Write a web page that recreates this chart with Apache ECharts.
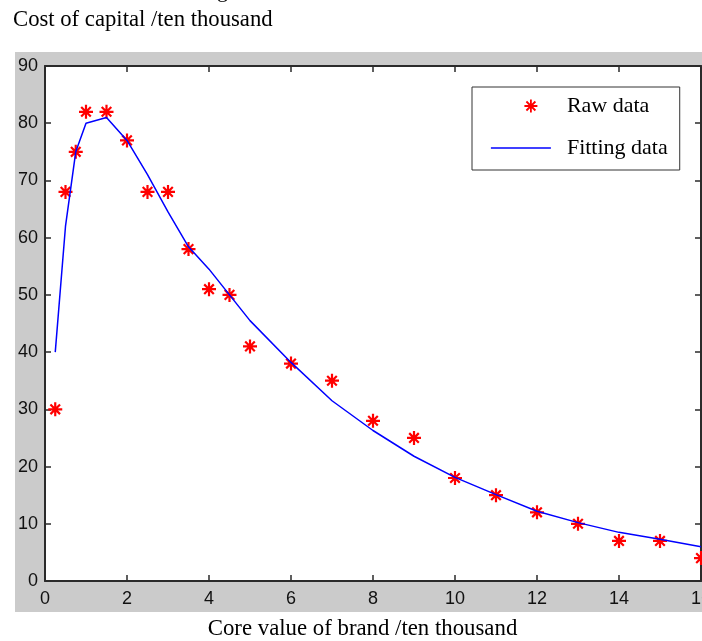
<!DOCTYPE html>
<html><head><meta charset="utf-8">
<script src="https://cdn.jsdelivr.net/npm/echarts@6/dist/echarts.min.js"></script>
<style>html,body{margin:0;padding:0;background:#fff;overflow:hidden}#c{width:702px;height:641px;}</style>
</head><body><div id="c"></div>
<script>
// ---- data ----
const rawX = [0.25, 0.5, 0.75, 1, 1.5, 2, 2.5, 3, 3.5, 4, 4.5, 5, 6, 7, 8, 9, 10, 11, 12, 13, 14, 15, 16];
const rawY = [30, 68, 75, 82, 82, 77, 68, 68, 58, 51, 50, 41, 38, 35, 28, 25, 18, 15, 12, 10, 7, 7, 4];
const fitY = [40, 62, 75, 80, 81, 77, 71, 64.5, 58.4, 54.5, 50, 45.5, 38.2, 31.5, 26.3, 21.8, 18.1, 15.1, 12.2, 10.2, 8.5, 7.3, 6];
const seriesNames = ['Raw data', 'Fitting data'];
const titleText = 'Cost of capital /ten thousand';
const xAxisTitle = 'Core value of brand /ten thousand';
const xRange = [0, 16, 2];
const yRange = [0, 90, 10];

const serif = 'Liberation Serif';
const sans = 'Liberation Sans';
const axisColor = '#2b2b2b';
const starPath = 'path://M0,7L14,7M7,0L7,14M2.2,2.2L11.8,11.8M11.8,2.2L2.2,11.8';
const legendStar = 'path://M0,0L0,0M60,14L60,14M33.5,7L46.5,7M40,0.5L40,13.5M35.5,2.5L44.5,11.5M44.5,2.5L35.5,11.5';
const legendLine = 'path://M0,0L0,0M60,14L60,14M0,6.3L60,6.3L60,7.7L0,7.7Z';

function axisBase(pos, r, showLabel, isX) {
  return {
    type: 'value', position: pos, min: r[0], max: r[1], interval: r[2],
    axisLine: { show: true, onZero: false, lineStyle: { color: axisColor, width: 2 } },
    axisTick: { show: true, inside: true, length: 6, lineStyle: { color: axisColor, width: 1.5 } },
    axisLabel: { show: showLabel, margin: isX ? 9 : 7, fontFamily: sans, fontSize: 18, color: '#111', hideOverlap: false },
    splitLine: { show: false }
  };
}

const chart = echarts.init(document.getElementById('c'), null, { renderer: 'canvas' });
chart.setOption({
  animation: false,
  backgroundColor: '#fff',
  title: {
    text: titleText, left: 13, top: 9, padding: 0,
    textStyle: { fontFamily: serif, fontSize: 22.7, fontWeight: 'normal', color: '#000' }
  },
  graphic: [
    { type: 'rect', left: 15, top: 52, z: -100, silent: true, shape: { width: 700, height: 560 }, style: { fill: '#cbcbcb' } },
    { type: 'text', left: 217, top: -19.5, silent: true, style: { text: 'g', font: '22px "Liberation Serif"', fill: '#000' } },
    { type: 'text', x: 362.5, y: 618, silent: true, style: { text: xAxisTitle, font: '22.8px "Liberation Serif"', fill: '#000', align: 'center', verticalAlign: 'top' } }
  ],
  grid: { left: 45, right: 1, top: 66, bottom: 60, show: true, backgroundColor: '#fff', borderWidth: 0, containLabel: false, outerBoundsMode: 'none' },
  xAxis: [axisBase('bottom', xRange, true, true), axisBase('top', xRange, false, true)],
  yAxis: [axisBase('left', yRange, true, false), axisBase('right', yRange, false, false)],
  legend: {
    orient: 'vertical', left: 472, top: 87, selectedMode: false,
    itemWidth: 60, itemHeight: 14, itemGap: 18,
    padding: [7, 12, 10, 18],
    backgroundColor: '#fff', borderColor: '#333', borderWidth: 1,
    textStyle: { fontFamily: serif, fontSize: 22, color: '#000', padding: [0, 0, 0, 11], lineHeight: 24 },
    data: [
      { name: seriesNames[0], icon: legendStar, itemStyle: { color: '#ff0000', borderColor: '#ff0000', borderWidth: 1.8 } },
      { name: seriesNames[1], icon: legendLine, itemStyle: { color: '#0000ff', borderWidth: 0 } }
    ]
  },
  series: [
    {
      name: seriesNames[0], type: 'scatter', xAxisIndex: 0, yAxisIndex: 0,
      data: rawX.map((x, i) => [x, rawY[i]]),
      symbol: starPath, symbolSize: 14, clip: false, z: 2,
      itemStyle: { color: '#ff0000', borderColor: '#ff0000', borderWidth: 2.2, opacity: 1 }
    },
    {
      name: seriesNames[1], type: 'line', xAxisIndex: 0, yAxisIndex: 0,
      data: rawX.map((x, i) => [x, fitY[i]]),
      symbol: 'none', showSymbol: false, smooth: false, z: 3,
      lineStyle: { color: '#0000ff', width: 1.5 },
      itemStyle: { color: '#0000ff' }
    }
  ]
});
</script></body></html>
